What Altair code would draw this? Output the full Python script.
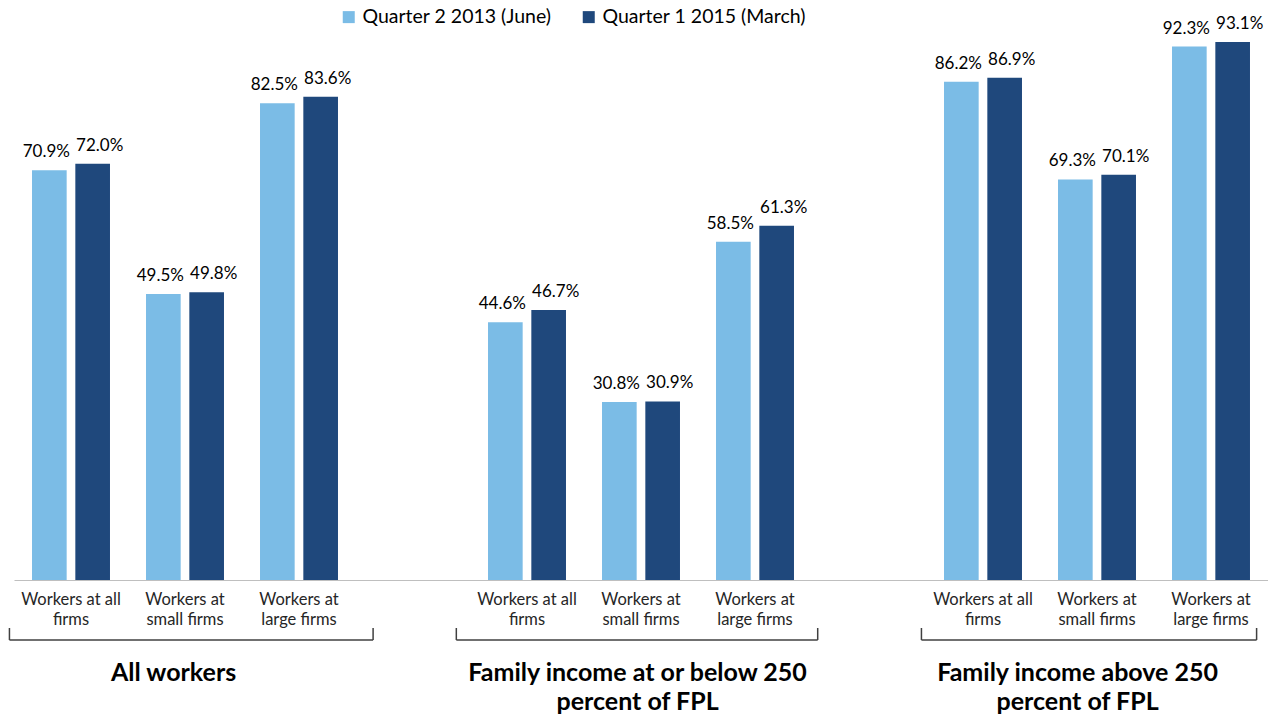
import json
import altair as alt
import pandas as pd

series = ["Quarter 2 2013 (June)", "Quarter 1 2015 (March)"]
colors = ["#7BBCE6", "#1F487C"]
groups = [
    "All workers",
    "Family income at or below 250|percent of FPL",
    "Family income above 250|percent of FPL",
]
categories = ["Workers at all|firms", "Workers at|small firms", "Workers at|large firms"]
q2_2013 = [70.9, 49.5, 82.5, 44.6, 30.8, 58.5, 86.2, 69.3, 92.3]
q1_2015 = [72.0, 49.8, 83.6, 46.7, 30.9, 61.3, 86.9, 70.1, 93.1]
# bracket extents and title centres, in slot units
bracket_start = [-0.04, 3.88, 7.96]
bracket_end = [3.15, 7.05, 10.9]
title_center = [1.4, 5.47, 9.33]

FONT = "Lato"

rows = []
for g in range(3):
    for c in range(3):
        i = g * 3 + c
        for s, vals in zip(series, [q2_2013, q1_2015]):
            rows.append(dict(slot=g * 4 + c, series=s, value=vals[i]))
df = pd.DataFrame(rows)

slot_labels = []
for g in range(3):
    slot_labels += categories
    if g < 2:
        slot_labels.append("")
n_slots = len(slot_labels)
label_expr = "split(" + json.dumps(slot_labels) + "[datum.value], '|')"

x_enc = alt.X(
    "slot:O",
    scale=alt.Scale(domain=list(range(n_slots)), paddingInner=0.316, paddingOuter=0.158),
    axis=alt.Axis(
        title=None,
        labelExpr=label_expr,
        labelAngle=0,
        ticks=False,
        domainColor="#BFBFBF",
        domainWidth=1,
        labelFontSize=16.5,
        labelFont=FONT,
        labelColor="#262626",
        labelPadding=11,
        labelLineHeight=20,
    ),
)
xoff = alt.XOffset("series:N", scale=alt.Scale(domain=series, paddingInner=0.2, paddingOuter=0))
y_enc = alt.Y("value:Q", scale=alt.Scale(domain=[0, 100]), axis=None)

bars = alt.Chart(df).mark_bar().encode(
    x=x_enc,
    xOffset=xoff,
    y=y_enc,
    color=alt.Color(
        "series:N",
        scale=alt.Scale(domain=series, range=colors),
        legend=alt.Legend(
            orient="none",
            legendX=325,
            legendY=5,
            direction="horizontal",
            title=None,
            symbolType="square",
            symbolSize=144,
            symbolStrokeWidth=0,
            labelFontSize=19.5,
            labelFont=FONT,
            labelColor="#000000",
            labelLimit=0,
            labelOffset=4,
            columnPadding=27,
        ),
    ),
)


def value_labels(s, dx):
    return alt.Chart(df).transform_filter(
        alt.datum.series == s
    ).transform_calculate(
        txt="format(datum.value, '.1f') + '%'"
    ).mark_text(dy=-9, dx=dx, baseline="bottom", fontSize=17, font=FONT, color="#000000").encode(
        x=x_enc, xOffset=xoff, y=y_enc, text="txt:N"
    )


base = alt.layer(bars, value_labels(series[0], -3), value_labels(series[1], 7))

gdf = pd.DataFrame(
    dict(group=groups, start=bracket_start, end=bracket_end, center=title_center)
)
qx = alt.Scale(domain=[0, n_slots], nice=False, zero=False)

hline = alt.Chart(gdf).mark_rule(color="#404040", strokeWidth=1.5).encode(
    x=alt.X("start:Q", scale=qx, axis=None), x2="end:Q", y=alt.value(638)
)
ltick = alt.Chart(gdf).mark_rule(color="#404040", strokeWidth=1.5).encode(
    x=alt.X("start:Q", scale=qx, axis=None), y=alt.value(626), y2=alt.value(638)
)
rtick = alt.Chart(gdf).mark_rule(color="#404040", strokeWidth=1.5).encode(
    x=alt.X("end:Q", scale=qx, axis=None), y=alt.value(626), y2=alt.value(638)
)
titles = alt.Chart(gdf).mark_text(
    fontWeight="bold", fontSize=25, font=FONT, lineBreak="|", lineHeight=29,
    baseline="top", align="center", color="#000000",
).encode(x=alt.X("center:Q", scale=qx, axis=None), y=alt.value(659), text="group:N")

deco = alt.layer(hline, ltick, rtick, titles)

chart = (
    alt.layer(base, deco)
    .resolve_scale(x="independent")
    .properties(
        width=1254,
        height=578,
        autosize=alt.AutoSizeParams(type="none"),
        padding={"left": 14, "top": 2, "right": 0, "bottom": 139},
    )
    .configure_view(stroke=None)
)

chart.save("out.html", embed_options={"renderer": "svg", "actions": False})
